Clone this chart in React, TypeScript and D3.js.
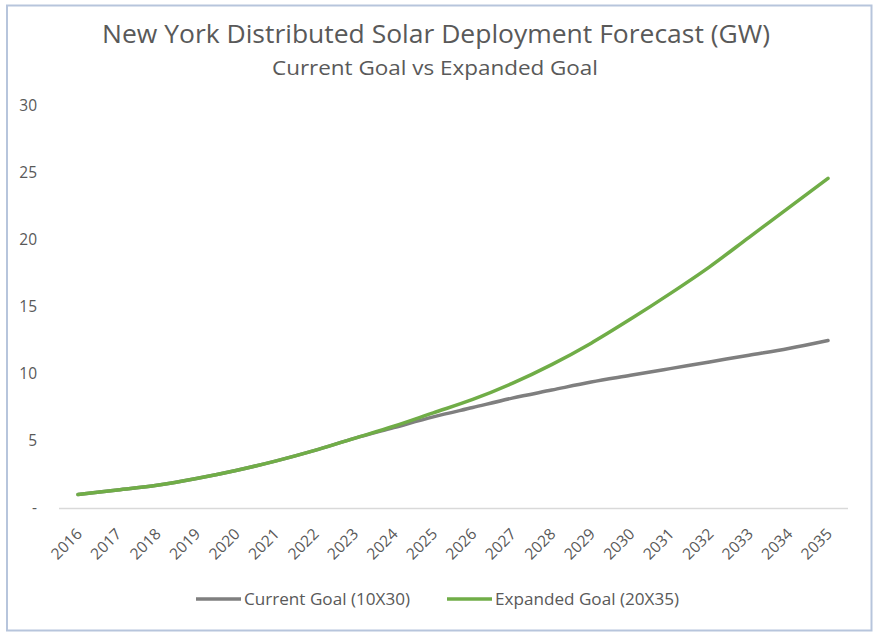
import React from "react";
import * as d3 from "d3";

const years = [
  "2016", "2017", "2018", "2019", "2020", "2021", "2022", "2023", "2024", "2025",
  "2026", "2027", "2028", "2029", "2030", "2031", "2032", "2033", "2034", "2035",
];
const currentGoal = [1.0, 1.35, 1.7, 2.2, 2.8, 3.5, 4.3, 5.2, 6.0, 6.8, 7.5, 8.2, 8.8, 9.4, 9.9, 10.4, 10.9, 11.4, 11.9, 12.5];
const expandedGoal = [1.0, 1.35, 1.7, 2.2, 2.8, 3.5, 4.3, 5.2, 6.1, 7.1, 8.1, 9.3, 10.7, 12.3, 14.1, 16.0, 18.0, 20.2, 22.4, 24.6];
const yTicks = [0, 5, 10, 15, 20, 25, 30];
const seriesNames = ["Current Goal (10X30)", "Expanded Goal (20X35)"];
const seriesColors = ["#7f7f7f", "#70ad47"];

const W = 875;
const H = 633;
const FONT = "'Open Sans', 'Noto Sans', sans-serif";

export default function App() {
  const x = d3.scalePoint<string>().domain(years).range([78, 828]);
  const y = d3.scaleLinear().domain([0, 30]).range([508, 106]);
  const line = d3
    .line<number>()
    .x((_, i) => x(years[i]) as number)
    .y((d) => y(d))
    .curve(d3.curveMonotoneX);

  const series = [currentGoal, expandedGoal];

  return (
    <svg
      width={W}
      height={H}
      style={{ position: "absolute", left: 0, top: 0, background: "#fff" }}
      fontFamily={FONT}
    >
      <rect x={7} y={5.5} width={864.5} height={625} fill="#fff" stroke="#b7c5dc" strokeWidth={2} />
      <text x={436} y={43} textAnchor="middle" fontSize={25} fill="#595959" textLength={668} lengthAdjust="spacingAndGlyphs">
        New York Distributed Solar Deployment Forecast (GW)
      </text>
      <text x={435} y={75} textAnchor="middle" fontSize={19.5} fill="#595959" textLength={326} lengthAdjust="spacingAndGlyphs">
        Current Goal vs Expanded Goal
      </text>

      {yTicks.map((t) => (
        <text key={t} x={37} y={y(t)} dy="0.35em" textAnchor="end" fontSize={15.5} fill="#595959">
          {t === 0 ? "-" : t}
        </text>
      ))}

      <line x1={59} x2={848} y1={y(0) + 0.5} y2={y(0) + 0.5} stroke="#d9d9d9" strokeWidth={1.5} />

      {years.map((yr) => (
        <text
          key={yr}
          transform={`translate(${(x(yr) as number) + 5},${535}) rotate(-45)`}
          textAnchor="end"
          fontSize={15.5}
          fill="#595959"
          textLength={36}
          lengthAdjust="spacingAndGlyphs"
        >
          {yr}
        </text>
      ))}

      {series.map((s, i) => (
        <path
          key={i}
          d={line(s) || ""}
          fill="none"
          stroke={seriesColors[i]}
          strokeWidth={3.5}
          strokeLinecap="round"
        />
      ))}

      {seriesNames.map((n, i) => {
        const lx = i === 0 ? 196 : 447;
        return (
          <g key={n}>
            <line x1={lx} x2={lx + 45} y1={599} y2={599} stroke={seriesColors[i]} strokeWidth={3.5} />
            <text
              x={lx + 48}
              y={599}
              dy="0.35em"
              fontSize={16.5}
              fill="#595959"
              textLength={i === 0 ? 166 : 184}
              lengthAdjust="spacingAndGlyphs"
            >
              {n}
            </text>
          </g>
        );
      })}
    </svg>
  );
}
